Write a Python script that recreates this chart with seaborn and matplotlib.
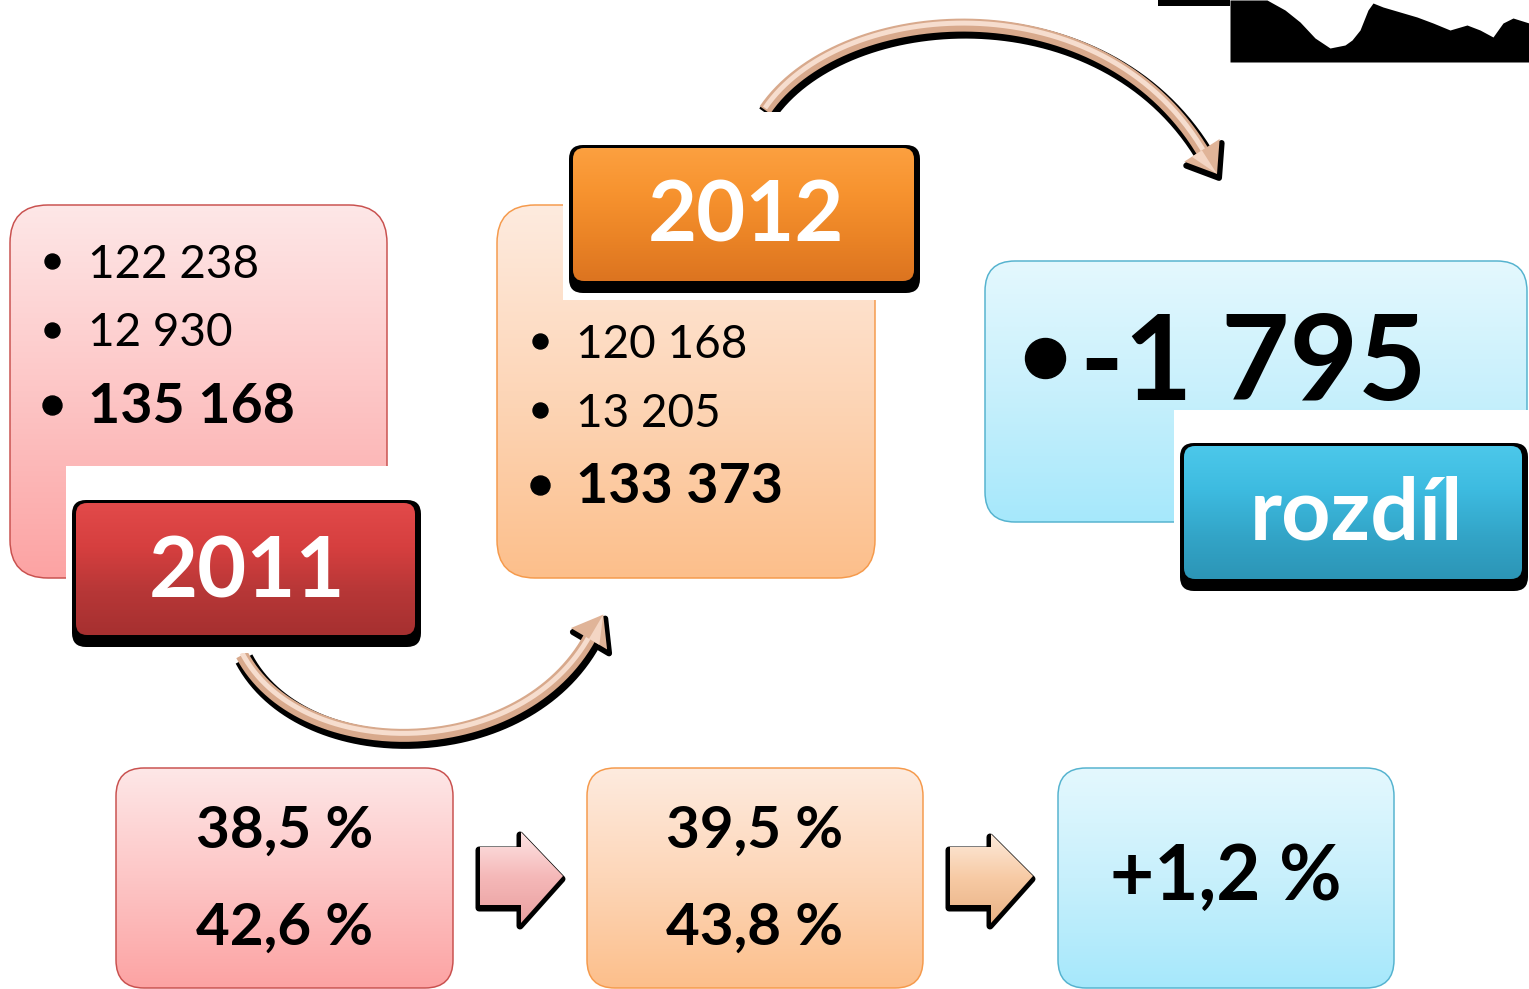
import numpy as np
import matplotlib
matplotlib.use("Agg")
import matplotlib.pyplot as plt
import seaborn as sns
from matplotlib.patches import FancyBboxPatch, Rectangle, Polygon
from matplotlib.colors import to_rgb

# ---------------- data ----------------
years = ["2011", "2012"]
values_2011 = ["122 238", "12 930", "135 168"]
values_2012 = ["120 168", "13 205", "133 373"]
diff_label = "rozdíl"
diff_value = "-1 795"
pct_2011 = ["38,5 %", "42,6 %"]
pct_2012 = ["39,5 %", "43,8 %"]
pct_diff = ["+1,2 %"]

# decorative silhouette (top right corner)
sil_x = [1230, 1267, 1285, 1300, 1315, 1330, 1345, 1352, 1360, 1368, 1373, 1383,
         1400, 1417, 1433, 1450, 1467, 1480, 1493, 1503, 1513, 1529]
sil_top = [0, 0, 10, 22, 38, 48, 45, 40, 30, 10, 3, 7, 12, 17, 23, 30, 25, 30, 37, 23, 18, 23]

sns.set_theme(style="white")
FONT = "Lato"
plt.rcParams["font.family"] = [FONT, "DejaVu Sans"]

W, H = 1529, 989
fig = plt.figure(figsize=(W / 100, H / 100), dpi=100)
ax = fig.add_axes([0, 0, 1, 1])
PX = 0.72  # points per pixel


def grad_img(stops, n=256):
    pos = np.linspace(0, 1, len(stops))
    cols = np.array([to_rgb(c) for c in stops])
    t = np.linspace(0, 1, n)
    img = np.stack([np.interp(t, pos, cols[:, k]) for k in range(3)], axis=-1)
    return img[:, None, :]


def grad_box(x0, y0, x1, y1, stops, r, ec="none", lw=0.0, z=1):
    patch = FancyBboxPatch((x0, y0), x1 - x0, y1 - y0,
                           boxstyle=f"round,pad=0,rounding_size={r}",
                           fc="none", ec=ec, lw=lw * PX, zorder=z + 0.5)
    ax.add_patch(patch)
    im = ax.imshow(grad_img(stops), extent=(x0, x1, y1, y0), aspect="auto",
                   zorder=z, interpolation="bilinear")
    im.set_clip_path(patch)
    return patch


def label(x0, y0, x1, y1, stops, text, cx, base, size, z=10):
    sh = FancyBboxPatch((x0, y0), x1 - x0, y1 - y0,
                        boxstyle="round,pad=0,rounding_size=14",
                        fc="black", ec="none", zorder=z)
    ax.add_patch(sh)
    grad_box(x0 + 4, y0 + 3, x1 - 6, y1 - 12, stops, 11, z=z + 1)
    ax.text(cx, base, text, color="white", fontsize=size, fontweight="bold",
            ha="center", va="baseline", zorder=z + 3, family=FONT)


def bezier(pts, n=200):
    pts = np.array(pts, dtype=float)
    t = np.linspace(0, 1, n)[:, None]
    return ((1 - t) ** 3 * pts[0] + 3 * (1 - t) ** 2 * t * pts[1]
            + 3 * (1 - t) * t ** 2 * pts[2] + t ** 3 * pts[3])


def curved_arrow(ctrl, z=3):
    c = bezier(ctrl)
    sns.lineplot(x=c[:, 0] + 2, y=c[:, 1] + 4, sort=False, estimator=None,
                 color="black", lw=19 * PX, ax=ax, zorder=z, solid_capstyle="butt")
    sns.lineplot(x=c[:, 0], y=c[:, 1], sort=False, estimator=None,
                 color="#d8a98c", lw=13 * PX, ax=ax, zorder=z + 0.2, solid_capstyle="butt")
    sns.lineplot(x=c[:, 0], y=c[:, 1] - 2, sort=False, estimator=None,
                 color="#f6ddce", lw=5 * PX, ax=ax, zorder=z + 0.3, solid_capstyle="butt")
    # arrow head
    d = c[-1] - c[-6]
    d = d / np.hypot(*d)
    nrm = np.array([-d[1], d[0]])
    base = c[-1] - d * 2
    tip = base + d * 28
    head = np.array([tip, base + nrm * 21, base - nrm * 21])
    ax.add_patch(Polygon(head + np.array([2, 4]), closed=True, fc="black", ec="black",
                         lw=6 * PX, joinstyle="round", zorder=z + 0.1))
    ax.add_patch(Polygon(head, closed=True, fc="#e0b498", ec="none", zorder=z + 0.4))
    ax.add_patch(Polygon([tip, base + nrm * 12, base], closed=True, fc="#f4d6c4",
                         ec="none", zorder=z + 0.45))


def block_arrow(x0, xm, x1, yt, yb, ht, hb, stops, z=3):
    yc = (yt + yb) / 2
    pts = np.array([[x0, yt], [xm, yt], [xm, ht], [x1, yc], [xm, hb], [xm, yb], [x0, yb]])
    ax.add_patch(Polygon(pts + np.array([-1, 3]), closed=True, fc="black", ec="black",
                         lw=7 * PX, joinstyle="round", zorder=z))
    poly = Polygon(pts, closed=True, fc="none", ec="none", lw=0, zorder=z + 0.5)
    ax.add_patch(poly)
    im = ax.imshow(grad_img(stops), extent=(x0, x1, hb, ht), aspect="auto",
                   zorder=z + 0.2, interpolation="bilinear")
    im.set_clip_path(poly)


# ---------------- boxes ----------------
PINK = ["#fee7e7", "#fdc6c6", "#fca3a3"]
ORANGE = ["#feebdf", "#fdd6b8", "#fcbf8b"]
BLUE = ["#e4f8fe", "#c8f0fc", "#a6e8fb"]

grad_box(10, 205, 387, 578, PINK, 38, ec="#c9514f", lw=1.5)
grad_box(497, 205, 875, 578, ORANGE, 38, ec="#f59a4c", lw=1.5)
grad_box(985, 261, 1527, 522, BLUE, 30, ec="#55b3cf", lw=1.5)

grad_box(116, 768, 453, 988, PINK, 28, ec="#c9514f", lw=1.5)
grad_box(587, 768, 923, 988, ORANGE, 28, ec="#f59a4c", lw=1.5)
grad_box(1058, 768, 1394, 988, BLUE, 28, ec="#55b3cf", lw=1.5)

# curved arrows
curved_arrow([(242, 655), (300, 765), (520, 765), (590, 637)])
curved_arrow([(765, 110), (840, 0), (1100, -20), (1203, 152)])

# white backgrounds behind labels
for (x0, y0, x1, y1) in [(66, 466, 425, 653), (563, 112, 925, 300), (1174, 410, 1529, 600)]:
    ax.add_patch(Rectangle((x0, y0), x1 - x0, y1 - y0, fc="white", ec="none", zorder=8))

# labels
label(72, 500, 421, 647, ["#e24a4a", "#d63f3f", "#b73737", "#a63030"], years[0], 247, 597, 61)
label(569, 145, 920, 293, ["#fca040", "#f7932f", "#eb8426", "#dc7420"], years[1], 746, 241, 61)
label(1180, 443, 1528, 591, ["#4cc8ea", "#3dbbe0", "#33a5c8", "#2c95b6"], diff_label, 1356, 540, 62)

# info texts
def info(values, bx, tx, bases, centers):
    for i, (v, b, c) in enumerate(zip(values, bases, centers)):
        bold = i == len(values) - 1
        ax.plot([bx], [c], "o", color="black", ms=(19 if bold else 15) * PX, zorder=6)
        ax.text(tx, b, v, fontsize=40 if bold else 33, fontweight="bold" if bold else "normal",
                ha="left", va="baseline", color="black", zorder=6, family=FONT)


info(values_2011, 52, 88, [278, 346, 423], [261, 330, 405])
info(values_2012, 540, 576, [358, 427, 503], [341, 410, 485])

ax.plot([1045], [358], "o", color="black", ms=40 * PX, zorder=6)
ax.text(1080, 400, diff_value, fontsize=85, fontweight="bold", ha="left", va="baseline",
        color="black", zorder=6, family=FONT)

for cx, vals in [(285, pct_2011), (755, pct_2012)]:
    for v, b in zip(vals, [848, 945]):
        ax.text(cx, b, v, fontsize=42, fontweight="bold", ha="center", va="baseline",
                color="black", zorder=6, family=FONT)
ax.text(1226, 900, pct_diff[0], fontsize=55, fontweight="bold", ha="center", va="baseline",
        color="black", zorder=6, family=FONT)

# block arrows
block_arrow(480, 521, 563, 847, 905, 832, 923, ["#fde4e4", "#f5b8b8", "#e9a0a0"])
block_arrow(950, 991, 1033, 847, 905, 834, 923, ["#fdeadb", "#f7caa4", "#e9b285"])

# top-right silhouette
ax.add_patch(Rectangle((1158, 0), 72, 6, fc="black", ec="none", zorder=9))
ax.fill_between(sil_x, sil_top, [62] * len(sil_x), color="black", lw=0, zorder=9)

ax.set_xlim(0, W)
ax.set_ylim(H, 0)
ax.axis("off")
fig.savefig("out.png", dpi=100, facecolor="white")
